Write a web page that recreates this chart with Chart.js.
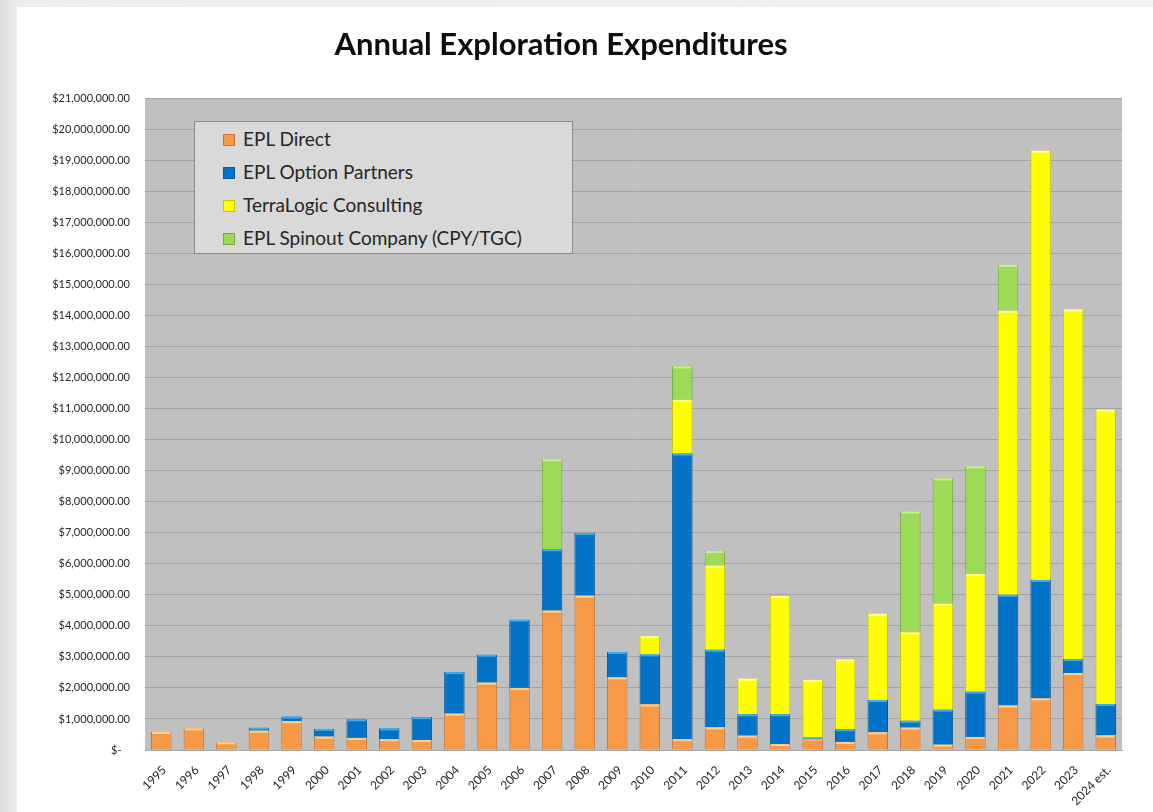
<!DOCTYPE html>
<html>
<head>
<meta charset="utf-8">
<script src="https://cdn.jsdelivr.net/npm/chart.js@4.4.1/dist/chart.umd.min.js"></script>
<style>
  html, body { margin: 0; padding: 0; }
  body {
    width: 1153px; height: 812px; overflow: hidden; position: relative;
    background: linear-gradient(90deg, #dcdcdc 0px, #ececec 17px, #f2f2f2 100%);
    font-family: Lato, "Open Sans", sans-serif;
  }
  #panel { position: absolute; left: 17px; top: 7px; right: 0; bottom: 0; background: #fff; }
  #wrap { position: absolute; left: 0; top: 0; width: 1153px; height: 812px; }
  #legend {
    position: absolute; left: 194px; top: 121px; width: 377px; height: 131px;
    background: #d9d9d9; border: 1px solid #8c8c8c; box-sizing: content-box;
    padding: 0; margin: 0; list-style: none;
  }
  #legend li {
    position: absolute; left: 28px; height: 24px; line-height: 24px;
    font-size: 19px; color: #262626; white-space: nowrap;
  }
  #legend span.box {
    display: inline-block; width: 10px; height: 10px; margin-right: 8px;
    vertical-align: 0px; border: 1px solid;
  }
</style>
</head>
<body>
<div id="panel"></div>
<div id="wrap"><canvas id="chart" width="1153" height="812"></canvas></div>
<ul id="legend"></ul>
<script>
const years = ['1995', '1996', '1997', '1998', '1999', '2000', '2001', '2002', '2003', '2004',
  '2005', '2006', '2007', '2008', '2009', '2010', '2011', '2012', '2013', '2014',
  '2015', '2016', '2017', '2018', '2019', '2020', '2021', '2022', '2023', '2024 est.'];

const eplDirect = [580000, 700000, 250000, 620000, 930000, 430000, 390000, 350000, 320000, 1170000,
  2170000, 2000000, 4490000, 4970000, 2340000, 1470000, 350000, 730000, 460000, 190000,
  370000, 260000, 570000, 720000, 170000, 420000, 1430000, 1660000, 2480000, 470000];

const optionPartners = [null, null, null, 100000, 150000, 250000, 600000, 350000, 740000, 1340000,
  900000, 2200000, 1980000, 2020000, 820000, 1610000, 9200000, 2500000, 690000, 960000,
  30000, 410000, 1040000, 220000, 1130000, 1460000, 3570000, 3820000, 450000, 1010000];

const terraLogic = [null, null, null, null, null, null, null, null, null, null,
  null, null, null, null, null, 590000, 1730000, 2710000, 1150000, 3810000,
  1860000, 2250000, 2780000, 2850000, 3410000, 3790000, 9150000, 13830000, 11270000, 9490000];

const spinout = [null, null, null, null, null, null, null, null, null, null,
  null, null, 2900000, null, null, null, 1080000, 470000, null, null,
  null, null, null, 3900000, 4040000, 3470000, 1480000, null, null, null];

const seriesNames = ['EPL Direct', 'EPL Option Partners', 'TerraLogic Consulting', 'EPL Spinout Company (CPY/TGC)'];
const fillColors = ['#f79a48', '#0273c6', '#ffff00', '#9cdb55'];
const edgeColors = ['#c9743a', '#025a9c', '#c8c800', '#76a843'];
const topColors = ['#ffd08a', '#3eaef0', '#ffff9a', '#c9f08e'];

function money(v) {
  if (v === 0) return '$-   ';
  return '$' + v.toLocaleString('en-US', { minimumFractionDigits: 2, maximumFractionDigits: 2 });
}

const plotBackground = {
  id: 'plotBackground',
  beforeDraw(chart) {
    const a = chart.chartArea;
    const ctx = chart.ctx;
    ctx.save();
    ctx.fillStyle = '#c0c0c0';
    ctx.fillRect(a.left, a.top, a.right - a.left, a.bottom - a.top);
    ctx.restore();
  }
};

// light strip along the top of every segment, like the bevel in the original
const bevel = {
  id: 'bevel',
  afterDatasetsDraw(chart) {
    const ctx = chart.ctx;
    ctx.save();
    chart.data.datasets.forEach((ds, i) => {
      chart.getDatasetMeta(i).data.forEach((bar, j) => {
        if (!ds.data[j]) return;
        const w = bar.width;
        ctx.fillStyle = topColors[i];
        ctx.fillRect(bar.x - w / 2 + 1, bar.y, w - 2, 2);
      });
    });
    ctx.restore();
  }
};

const datasets = [eplDirect, optionPartners, terraLogic, spinout].map((data, i) => ({
  label: seriesNames[i],
  data,
  backgroundColor: fillColors[i],
  borderColor: edgeColors[i],
  borderWidth: 1,
  borderSkipped: 'bottom',
  categoryPercentage: 1,
  barPercentage: 0.63
}));

const chart = new Chart(document.getElementById('chart'), {
  type: 'bar',
  data: { labels: years, datasets },
  options: {
    responsive: false,
    animation: false,
    layout: { padding: { left: 0, right: 31, top: 0, bottom: 0 } },
    plugins: {
      legend: { display: false },
      tooltip: { enabled: false },
      title: {
        display: true,
        text: 'Annual Exploration Expenditures',
        color: '#0d0d0d',
        font: { family: 'Lato', size: 31, weight: 'bold' },
        padding: { top: 26, bottom: 35 }
      }
    },
    scales: {
      x: {
        stacked: true,
        grid: { display: false },
        border: { color: '#a6a6a6' },
        ticks: {
          color: '#262626',
          font: { family: 'Lato', size: 12 },
          minRotation: 45,
          maxRotation: 45,
          autoSkip: false,
          padding: 5,
          labelOffset: 3
        },
        afterFit(scale) { scale.height = 62; }
      },
      y: {
        stacked: true,
        min: 0,
        max: 21000000,
        grid: { color: '#a3a3a3', drawTicks: false, lineWidth: 1 },
        border: { display: false },
        ticks: {
          stepSize: 1000000,
          color: '#262626',
          font: { family: 'Lato', size: 11 },
          padding: 15,
          callback: (v) => money(v)
        },
        afterFit(scale) { scale.width = 145; }
      }
    }
  },
  plugins: [plotBackground, bevel]
});

// legend box inside the plot, built from the datasets
const legendEl = document.getElementById('legend');
chart.data.datasets.forEach((ds, i) => {
  const li = document.createElement('li');
  li.style.top = (5 + i * 33) + 'px';
  li.innerHTML = `<span class="box" style="background:${fillColors[i]};border-color:${edgeColors[i]}"></span>${ds.label}`;
  legendEl.appendChild(li);
});
</script>
</body>
</html>
